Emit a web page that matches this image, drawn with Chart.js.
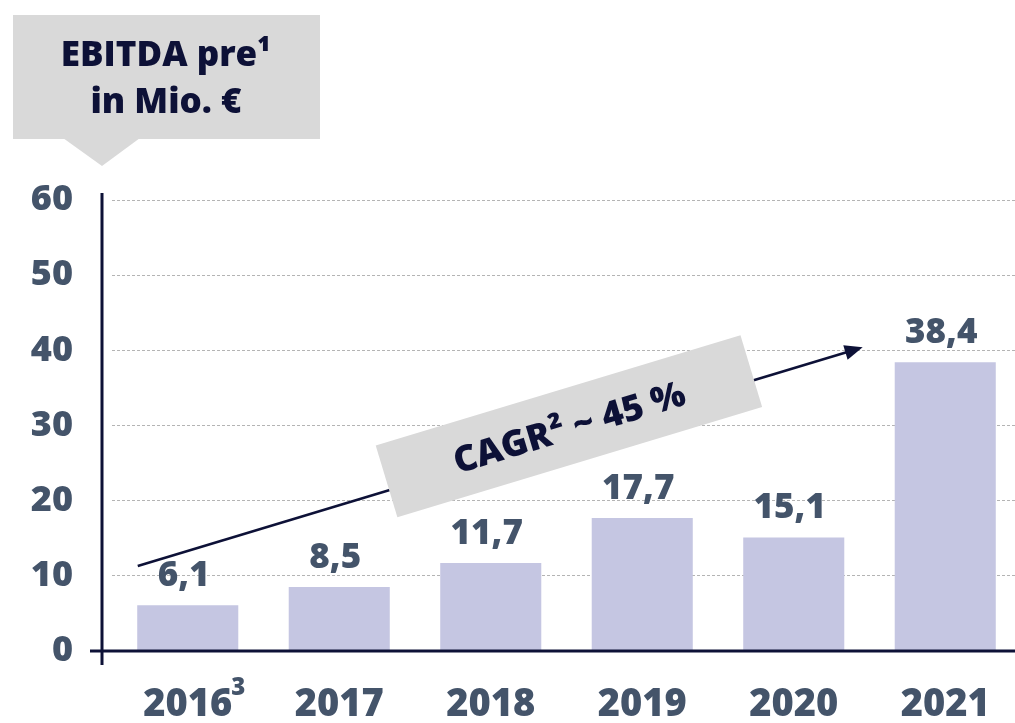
<!DOCTYPE html>
<html><head><meta charset="utf-8">
<script src="https://cdn.jsdelivr.net/npm/chart.js@4/dist/chart.umd.min.js"></script>
<style>html,body{margin:0;padding:0;overflow:hidden;background:#fff;width:1015px;height:723px}canvas{display:block}</style>
</head><body>
<canvas id="c" width="1021" height="723"></canvas>
<script>
const categories = ['2016','2017','2018','2019','2020','2021'];
const ebitdaPre = [6.1, 8.5, 11.7, 17.7, 15.1, 38.4];
const valueLabels = ['6,1','8,5','11,7','17,7','15,1','38,4'];
const footnoteMarks = ['3','','','','',''];
const yTickValues = [0,10,20,30,40,50,60];
const titleLines = ['EBITDA pre¹','in Mio. €'];
const cagrText = 'CAGR² ~ 45 %';

const NAVY = '#0d1137';
const SLATE = '#44546a';
const BAR = '#c5c6e2';
const BOX = '#d9d9d9';
const FONT = '"Open Sans", "Noto Sans", sans-serif';
const W = '800';

const deco = {
  id: 'deco',
  afterDraw(chart, args, opts) {
    const ctx = chart.ctx;
    const xs = chart.scales.x, ys = chart.scales.y;
    const y0 = ys.getPixelForValue(0);
    const yTop = ys.getPixelForValue(60);
    ctx.save();
    ctx.strokeStyle = NAVY;
    ctx.lineWidth = 3;
    ctx.beginPath();
    ctx.moveTo(102, yTop - 7); ctx.lineTo(102, y0 + 14);
    ctx.moveTo(90, y0); ctx.lineTo(chart.width, y0);
    ctx.stroke();

    const meta = chart.getDatasetMeta(0);
    ctx.fillStyle = SLATE;
    ctx.font = W + ' 35px ' + FONT;
    ctx.textAlign = 'center';
    ctx.textBaseline = 'alphabetic';
    meta.data.forEach((bar, i) => {
      ctx.fillText(valueLabels[i], bar.x - 4, bar.y - 19);
    });

    ctx.font = W + ' 38px ' + FONT;
    const labW = ctx.measureText('2016').width;
    ctx.font = W + ' 24px ' + FONT;
    ctx.textAlign = 'left';
    footnoteMarks.forEach((m, i) => {
      if (!m) return;
      const cx = xs.getPixelForValue(i);
      ctx.fillText(m, cx + labW / 2 - 1, 695);
    });

    const sx = xs.getPixelForValue(opts.trendStart[0]), sy = ys.getPixelForValue(opts.trendStart[1]);
    const ex = xs.getPixelForValue(opts.trendEnd[0]), ey = ys.getPixelForValue(opts.trendEnd[1]);
    const ang = Math.atan2(ey - sy, ex - sx);
    ctx.strokeStyle = NAVY;
    ctx.fillStyle = NAVY;
    ctx.lineWidth = 2.5;
    const hl = 18, hw = 7.5;
    ctx.beginPath();
    ctx.moveTo(sx, sy);
    ctx.lineTo(ex - Math.cos(ang) * (hl - 2), ey - Math.sin(ang) * (hl - 2));
    ctx.stroke();
    ctx.beginPath();
    ctx.moveTo(ex, ey);
    ctx.lineTo(ex - Math.cos(ang) * hl - Math.sin(ang) * hw, ey - Math.sin(ang) * hl + Math.cos(ang) * hw);
    ctx.lineTo(ex - Math.cos(ang) * hl + Math.sin(ang) * hw, ey - Math.sin(ang) * hl - Math.cos(ang) * hw);
    ctx.closePath();
    ctx.fill();

    const bx = xs.getPixelForValue(opts.cagrCenter[0]), by = ys.getPixelForValue(opts.cagrCenter[1]);
    ctx.translate(bx, by);
    ctx.rotate(ang);
    ctx.fillStyle = BOX;
    ctx.fillRect(-190.5, -37.5, 381, 75);
    ctx.fillStyle = NAVY;
    ctx.font = W + ' 36px ' + FONT;
    ctx.textAlign = 'center';
    ctx.textBaseline = 'middle';
    ctx.fillText(cagrText, 0, 3);
    ctx.setTransform(1, 0, 0, 1, 0, 0);

    ctx.fillStyle = BOX;
    ctx.fillRect(13, 15, 307, 124);
    ctx.beginPath();
    ctx.moveTo(63, 138); ctx.lineTo(140, 138); ctx.lineTo(102, 166); ctx.closePath();
    ctx.fill();
    ctx.fillStyle = NAVY;
    ctx.font = W + ' 35px ' + FONT;
    ctx.textAlign = 'center';
    ctx.textBaseline = 'alphabetic';
    ctx.fillText(titleLines[0], 166, 66);
    ctx.fillText(titleLines[1], 166, 113);
    ctx.restore();
  }
};

function draw() {
  new Chart(document.getElementById('c'), {
    type: 'bar',
    data: {
      labels: categories,
      datasets: [{
        data: ebitdaPre,
        backgroundColor: BAR,
        borderWidth: 0,
        barPercentage: 0.667,
        categoryPercentage: 1
      }]
    },
    options: {
      responsive: false,
      animation: false,
      devicePixelRatio: 1,
      layout: { padding: { top: 200, left: 0, right: 0, bottom: 0 } },
      plugins: {
        legend: { display: false },
        tooltip: { enabled: false },
        deco: {
          trendStart: [-0.33, 11.3],
          trendEnd: [4.455, 40.4],
          cagrCenter: [2.516, 29.9]
        }
      },
      scales: {
        x: {
          grid: { display: false, drawTicks: false },
          border: { display: false },
          ticks: {
            color: SLATE,
            font: { family: FONT, size: 38, weight: W },
            padding: 31,
            maxRotation: 0
          },
          afterFit(s) { s.height = 72; }
        },
        y: {
          min: 0, max: 60,
          afterBuildTicks(s) { s.ticks = yTickValues.map(v => ({ value: v })); },
          grid: {
            color: (c) => c.tick && c.tick.value === 0 ? 'rgba(0,0,0,0)' : '#b4b4b4',
            lineWidth: 1,
            drawTicks: false
          },
          border: { display: false, dash: [3, 2] },
          ticks: {
            color: SLATE,
            font: { family: FONT, size: 36, weight: W },
            padding: 39
          },
          afterFit(s) { s.width = 112; }
        }
      }
    },
    plugins: [deco]
  });
}
if (document.fonts && document.fonts.load) {
  Promise.all([
    document.fonts.load('800 36px "Open Sans"'),
    document.fonts.load('bold 36px "Open Sans"')
  ]).then(draw, draw);
} else { draw(); }
</script>
</body></html>
